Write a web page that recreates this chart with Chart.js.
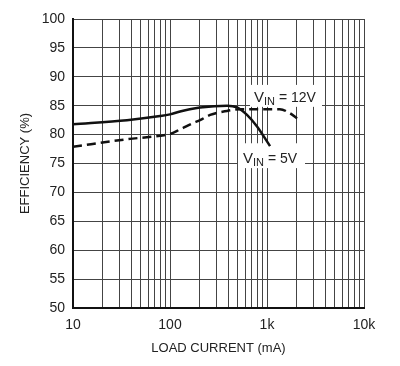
<!DOCTYPE html>
<html>
<head>
<meta charset="utf-8">
<script src="https://cdn.jsdelivr.net/npm/chart.js@4"></script>
<style>
  html, body { margin: 0; padding: 0; background: #fff; }
  canvas { display: block; }
</style>
</head>
<body>
<canvas id="effChart" width="400" height="366"></canvas>
<script>
// load current (mA) vs efficiency (%)
const vin5Current = [10, 36, 79, 100, 127, 160, 204, 387, 491, 622, 789, 1075];
const vin5Eff = [81.8, 82.5, 83.2, 83.5, 84.0, 84.4, 84.7, 85.0, 84.7, 83.4, 81.4, 78.0];

const vin12Current = [10, 36, 79, 100, 127, 173, 204, 259, 387, 525, 843, 1355, 1720, 2040];
const vin12Eff = [77.9, 79.2, 79.8, 80.1, 80.9, 82.0, 82.5, 83.4, 84.1, 84.4, 84.4, 84.4, 83.7, 82.8];

// log grid: every 1..9 step of each decade
const xTickValues = [10, 20, 30, 40, 50, 60, 70, 80, 90,
    100, 200, 300, 400, 500, 600, 700, 800, 900,
    1000, 2000, 3000, 4000, 5000, 6000, 7000, 8000, 9000, 10000];
const xTickLabels = { 10: '10', 100: '100', 1000: '1k', 10000: '10k' };

const FONT = '"Liberation Sans", Arial, Helvetica, sans-serif';

// curve labels, anchored in data units (x = mA, y = %)
const curveLabels = [
    { text: '12V', x: 735, y: 85.6, box: [668, 3690, 88.6, 84.8] },
    { text: '5V', x: 566, y: 75.1, box: [502, 2466, 78.5, 74.2] }
];

const toXY = (xs, ys) => xs.map((x, i) => ({ x, y: ys[i] }));

const vinLabels = {
    id: 'vinLabels',
    beforeDatasetsDraw(chart) {
        const { ctx, scales: { x, y } } = chart;
        ctx.save();
        curveLabels.forEach(l => {
            const [x0, x1, y0, y1] = l.box;
            const px0 = x.getPixelForValue(x0), px1 = x.getPixelForValue(x1);
            const py0 = y.getPixelForValue(y0), py1 = y.getPixelForValue(y1);
            ctx.fillStyle = '#fff';
            ctx.fillRect(px0, py0, px1 - px0, py1 - py0);

            let px = x.getPixelForValue(l.x);
            const py = y.getPixelForValue(l.y);
            ctx.fillStyle = '#222';
            ctx.textBaseline = 'alphabetic';
            ctx.textAlign = 'left';
            ctx.font = '15px ' + FONT;
            ctx.fillText('V', px, py);
            px += ctx.measureText('V').width;
            ctx.font = '11px ' + FONT;
            ctx.fillText('IN', px, py + 3);
            px += ctx.measureText('IN').width;
            ctx.font = '14px ' + FONT;
            ctx.fillText(' = ' + l.text, px, py);
        });
        ctx.restore();
    }
};

new Chart(document.getElementById('effChart'), {
    type: 'line',
    data: {
        datasets: [
            {
                label: 'VIN = 5V',
                data: toXY(vin5Current, vin5Eff),
                borderColor: '#111',
                borderWidth: 2.5,
                pointRadius: 0,
                cubicInterpolationMode: 'monotone',
                fill: false
            },
            {
                label: 'VIN = 12V',
                data: toXY(vin12Current, vin12Eff),
                borderColor: '#111',
                borderWidth: 2.5,
                borderDash: [9, 5],
                pointRadius: 0,
                cubicInterpolationMode: 'monotone',
                fill: false
            }
        ]
    },
    options: {
        responsive: false,
        animation: false,
        layout: { padding: { left: 0, top: 19, right: 36, bottom: 0 } },
        plugins: { legend: { display: false }, tooltip: { enabled: false } },
        scales: {
            x: {
                type: 'logarithmic',
                min: 10, max: 10000,
                afterBuildTicks: scale => { scale.ticks = xTickValues.map(v => ({ value: v })); },
                afterFit: scale => { scale.height = 58; },
                ticks: {
                    autoSkip: false, maxRotation: 0, padding: 9,
                    color: '#222', font: { family: FONT, size: 14 },
                    callback: v => xTickLabels[v] || ''
                },
                grid: { color: '#444', lineWidth: 1, drawTicks: false },
                border: { color: '#111', width: 2 },
                title: {
                    display: true, text: 'LOAD CURRENT (mA)', color: '#222',
                    font: { family: FONT, size: 13 }, padding: { top: 0, bottom: 10 }
                }
            },
            y: {
                min: 50, max: 100,
                afterFit: scale => { scale.width = 73; },
                ticks: {
                    stepSize: 5, padding: 8,
                    color: '#222', font: { family: FONT, size: 14 }
                },
                grid: { color: '#444', lineWidth: 1, drawTicks: false },
                border: { color: '#111', width: 2 },
                title: {
                    display: true, text: 'EFFICIENCY (%)', color: '#222',
                    font: { family: FONT, size: 13 }, padding: { top: 18, bottom: 0 }
                }
            }
        }
    },
    plugins: [vinLabels]
});
</script>
</body>
</html>
